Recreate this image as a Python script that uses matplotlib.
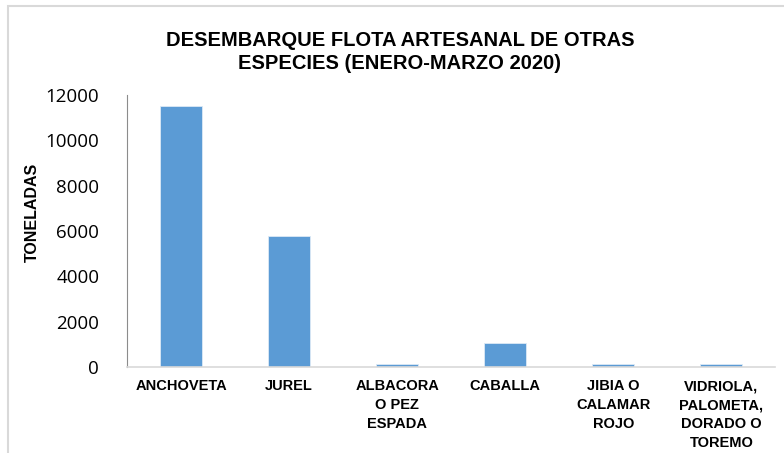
import matplotlib.pyplot as plt
from matplotlib.patches import Rectangle

especies = ["ANCHOVETA", "JUREL", "ALBACORA\nO PEZ\nESPADA", "CABALLA",
            "JIBIA O\nCALAMAR\nROJO", "VIDRIOLA,\nPALOMETA,\nDORADO O\nTOREMO"]
toneladas = [11500, 5800, 110, 1070, 110, 110]
yticks = [0, 2000, 4000, 6000, 8000, 10000, 12000]

plt.rcParams['font.family'] = ['Liberation Sans', 'DejaVu Sans']

fig = plt.figure(figsize=(7.84, 4.53), dpi=100)
ax = fig.add_axes([0.162, 0.190, 0.827, 0.600])

x = list(range(len(especies)))
ax.bar(x, toneladas, width=0.39, color='#5B9BD5', edgecolor='#dce9f6', linewidth=0.6)

ax.set_xlim(-0.5, len(especies) - 0.5)
ax.set_ylim(0, 12000)
ax.set_yticks(yticks)
ax.set_yticklabels([str(v) for v in yticks], fontsize=13.5, family='Open Sans')
ax.set_xticks(x)
ax.set_xticklabels(especies, fontsize=10.5, fontweight='bold', linespacing=1.45, va='top')
ax.tick_params(axis='y', length=0, pad=20)
ax.tick_params(axis='x', length=0, pad=9)

for s in ['top', 'right']:
    ax.spines[s].set_visible(False)
ax.spines['left'].set_color('#8c8c8c')
ax.spines['bottom'].set_color('#d9d9d9')
ax.spines['bottom'].set_linewidth(1.2)

ax.set_ylabel("TONELADAS", fontsize=11.5, fontweight='bold')
ax.yaxis.set_label_coords(-0.135, 0.57)

fig.text(0.51, 0.885, "DESEMBARQUE FLOTA ARTESANAL DE OTRAS\nESPECIES (ENERO-MARZO 2020)",
         ha='center', va='center', fontsize=14.5, fontweight='bold', linespacing=1.3)

fig.patches.append(Rectangle((8 / 784, -0.1), 1.2, 1 - 6 / 453 + 0.1, transform=fig.transFigure,
                             fill=False, edgecolor='#d9d9d9', linewidth=1.5))

fig.savefig("out.png", dpi=100)
